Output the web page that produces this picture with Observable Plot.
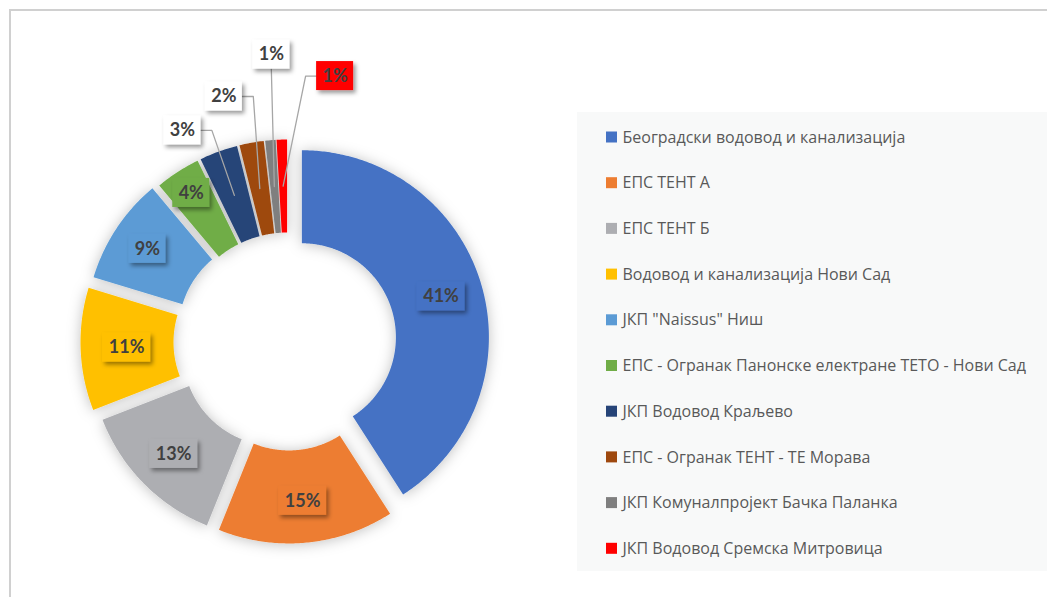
<!DOCTYPE html>
<html><head><meta charset="utf-8">
<script src="https://cdn.jsdelivr.net/npm/d3@7"></script>
<script src="https://cdn.jsdelivr.net/npm/@observablehq/plot@0.6"></script>
<style>body{margin:0;background:#fff;overflow:hidden}</style>
</head><body><div id="chart"></div>
<script>
// ---- data ----
const names = [
  "Београдски водовод и канализација",
  "ЕПС ТЕНТ А",
  "ЕПС ТЕНТ Б",
  "Водовод и канализација Нови Сад",
  "ЈКП \"Naissus\" Ниш",
  "ЕПС - Огранак Панонске електране ТЕТО - Нови Сад",
  "ЈКП Водовод Краљево",
  "ЕПС - Огранак ТЕНТ - ТЕ Морава",
  "ЈКП Комуналпројект Бачка Паланка",
  "ЈКП Водовод Сремска Митровица"
];
const values = [40.9, 15.2, 13.0, 10.6, 9.2, 3.9, 3.3, 2.1, 0.9, 0.9];
const colors = ["#4472C4","#ED7D31","#ADAEB2","#FFC000","#5B9BD5","#70AD47","#264478","#9E480E","#7F7F7F","#FF0000"];

// ---- layout ----
const W = 1047, H = 597;
const cx = 287, cy = 341, R = 187, r0 = 94;
const explode = [15, 15, 15, 20, 18, 15, 15, 15, 15, 15];
const labelR  = [145, 145, 145, 141, 150, 162, 140, 140, 140, 140];
const callouts = [null,null,null,null,null,null,
  {dx:-52, dy:-65, side:"right"},
  {dx:-36, dy:-92, side:"right"},
  {dx:-3,  dy:-132, side:"bottom"},
  {dx:52,  dy:-110, side:"left"}];
const calloutFill = ["#fff","#fff","#fff","#fff","#fff","#fff","#fff","#fff","#fff","#FF0000"];
const legendX = 606, legendY0 = 137, legendStep = 45.7;

// ---- geometry from data ----
const total = d3.sum(values);
const arcs = d3.pie().sort(null).value(d => d)(values);
const slicePts = [];
const labels = [];
const leaders = [];
arcs.forEach((a, i) => {
  const mid = (a.startAngle + a.endAngle) / 2;
  const ox = cx + explode[i] * Math.sin(mid), oy = cy - explode[i] * Math.cos(mid);
  const n = Math.max(3, Math.ceil((a.endAngle - a.startAngle) / 0.01));
  for (let k = 0; k <= n; k++) {
    const t = a.startAngle + (a.endAngle - a.startAngle) * k / n;
    slicePts.push({name: names[i], x: ox + R * Math.sin(t), y: oy - R * Math.cos(t)});
  }
  for (let k = n; k >= 0; k--) {
    const t = a.startAngle + (a.endAngle - a.startAngle) * k / n;
    slicePts.push({name: names[i], x: ox + r0 * Math.sin(t), y: oy - r0 * Math.cos(t)});
  }
  const text = Math.round(values[i] / total * 100) + "%";
  const bw = 26 + 11 * (text.length - 1), bh = 29;
  const c = callouts[i];
  let x, y, fill;
  if (!c) {
    x = ox + labelR[i] * Math.sin(mid); y = oy - labelR[i] * Math.cos(mid); fill = colors[i];
  } else {
    const rc = (R + r0) / 2;
    const ax = ox + rc * Math.sin(mid), ay = oy - rc * Math.cos(mid);
    x = ax + c.dx; y = ay + c.dy; fill = calloutFill[i];
    let pts;
    if (c.side === "right") pts = [[x + bw/2, y], [x + bw/2 + 11, y], [ax, ay]];
    else if (c.side === "left") pts = [[x - bw/2, y], [x - bw/2 - 11, y], [ax, ay]];
    else pts = [[x, y + bh/2], [ax, ay]];
    pts.forEach(p => leaders.push({id: i, x: p[0], y: p[1]}));
  }
  labels.push({i, text, x, y, bw, bh, fill});
});

const legend = names.map((d, i) => ({name: d, y: legendY0 + i * legendStep}));

const chart = Plot.plot({
  width: W, height: H, margin: 0,
  x: {domain: [0, W], range: [0, W], axis: null},
  y: {domain: [0, H], range: [0, H], axis: null},
  color: {domain: names, range: colors},
  style: {background: "#fff"},
  marks: [
    Plot.ruleY([9.5], {x1: 9, x2: W, stroke: "#d0d0d0", strokeWidth: 2}),
    Plot.ruleX([9.5], {y1: 9, y2: H, stroke: "#d0d0d0", strokeWidth: 2}),
    // legend background (rect #0)
    Plot.rect([0], {x1: 577, x2: W, y1: 112, y2: 571, fill: "#f8f9f9"}),
    // slices (line #0)
    Plot.line(slicePts, {x: "x", y: "y", z: "name", fill: "name", stroke: "none", curve: "linear-closed"}),
    // leader lines (line #1)
    Plot.line(leaders, {x: "x", y: "y", z: "id", stroke: "#a6a6a6", strokeWidth: 1.3, curve: "linear"}),
    // label boxes (rect #1)
    Plot.rect(labels, {x1: d => d.x - d.bw/2, x2: d => d.x + d.bw/2, y1: d => d.y - d.bh/2, y2: d => d.y + d.bh/2,
      fill: d => d.fill}),
    Plot.text(labels, {x: "x", y: "y", text: "text", fill: "#404040", fontSize: 18, fontWeight: "bold", fontFamily: "Lato, sans-serif"}),
    // legend (rect #2)
    Plot.rect(legend, {x1: legendX, x2: legendX + 11, y1: d => d.y - 5.5, y2: d => d.y + 5.5, fill: "name"}),
    Plot.text(legend, {x: legendX + 16, y: "y", text: "name", textAnchor: "start", fill: "#595959", fontSize: 16, fontFamily: "'Open Sans', sans-serif"})
  ]
});

// shadows
const ns = "http://www.w3.org/2000/svg";
const defs = document.createElementNS(ns, "defs");
defs.innerHTML = `
<filter id="slShadow" x="-20%" y="-20%" width="140%" height="140%">
  <feDropShadow dx="0" dy="1" stdDeviation="7" flood-color="#000" flood-opacity="0.25"/>
</filter>
<filter id="lbShadow" x="-30%" y="-30%" width="160%" height="160%">
  <feDropShadow dx="2.5" dy="3" stdDeviation="2.3" flood-color="#000" flood-opacity="0.4"/>
</filter>`;
chart.insertBefore(defs, chart.firstChild);
const lineGroups = chart.querySelectorAll('g[aria-label="line"]');
if (lineGroups[0]) lineGroups[0].setAttribute("filter", "url(#slShadow)");
const rectGroups = chart.querySelectorAll('g[aria-label="rect"]');
if (rectGroups[1]) rectGroups[1].setAttribute("filter", "url(#lbShadow)");
document.getElementById("chart").appendChild(chart);
</script>
</body></html>
